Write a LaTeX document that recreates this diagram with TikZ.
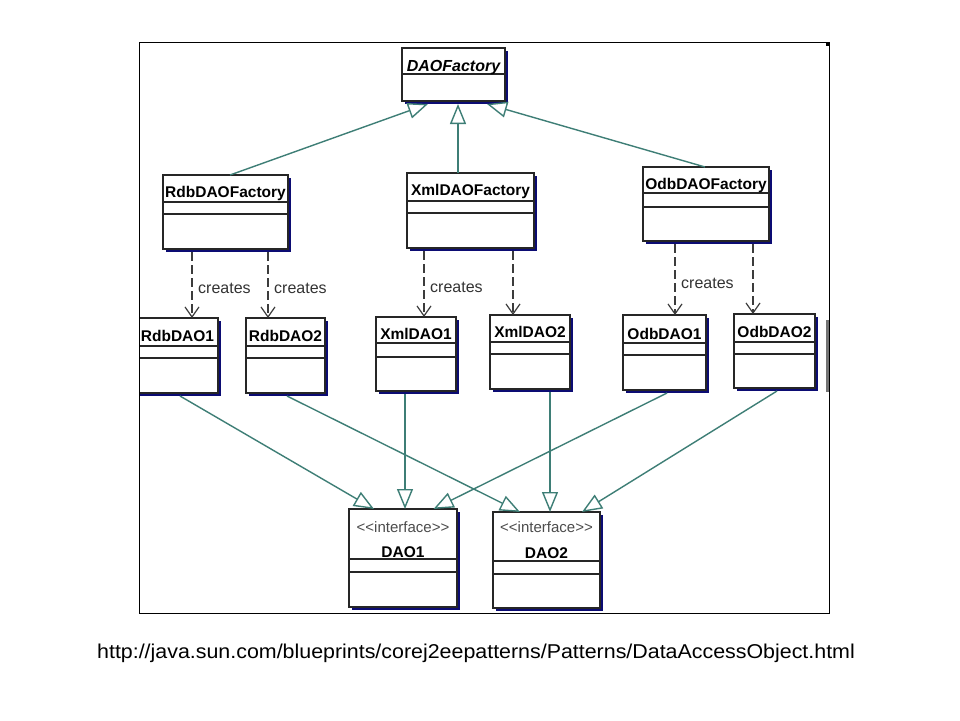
\documentclass[tikz,border=0pt]{standalone}
\usepackage{fontspec}
\setmainfont{Liberation Sans}
\newfontfamily\urlfont[FakeStretch=1.07]{Liberation Sans}
\usetikzlibrary{arrows.meta,calc}
\definecolor{gencol}{RGB}{62,126,118}
\definecolor{shad}{RGB}{12,12,115}
\definecolor{dline}{RGB}{60,60,60}
\tikzset{
 umlbox/.style={draw=black!85, fill=white, line width=1.1pt, inner sep=0pt, outer sep=0pt},
 ttl/.style={font=\bfseries\fontsize{15.5}{15.5}\selectfont, anchor=base, inner sep=0pt},
 sepline/.style={draw=black!85, line width=1.1pt},
 gen/.style={draw=gencol, line width=1.4pt, -{Triangle[open,length=20pt,width=16pt,fill=white]}},
 crt/.style={draw=dline, line width=1.2pt, dash pattern=on 9pt off 4pt, -{Straight Barb[length=10pt,width=14pt]}},
 crlab/.style={font=\fontsize{16}{16}\selectfont, text=black!80, anchor=base west, inner sep=0pt},
 ifc/.style={font=\fontsize{15}{15}\selectfont, text=black!70, anchor=base, inner sep=0pt},
}
% name, x1, y1, x2, y2, sep1, sep2, title baseline, title
\newcommand\umlcls[9]{%
 \fill[shad] (#2+3,#3+3) rectangle (#4+3,#5+3);
 \node[umlbox, anchor=north west, minimum width={(#4-#2)*1pt}, minimum height={(#5-#3)*1pt}] (#1) at (#2,#3) {};
 \draw[sepline] ($(#1.north west)+(0,#6-#3)$) -- ($(#1.north east)+(0,#6-#3)$);
 \draw[sepline] ($(#1.north west)+(0,#7-#3)$) -- ($(#1.north east)+(0,#7-#3)$);
 \node[ttl] (#1-t) at ($(#1.north)+(0,#8-#3)$) {#9};
}
\newcommand\ifctext{\textless\kern0pt\textless interface\textgreater\kern0pt\textgreater}
\begin{document}
\begin{tikzpicture}[x=1pt,y=-1pt]
\useasboundingbox (0,0) rectangle (960,720);
\fill[white] (0,0) rectangle (960,720);
\begin{scope}
\clip (139,42) rectangle (829,613);
\umlcls{daof}{402}{48}{505}{101}{74}{74}{71}{\itshape\fontsize{16}{16}\selectfont DAOFactory}
\umlcls{rdbf}{163}{175}{288}{249}{202}{214}{197}{RdbDAOFactory}
\umlcls{xmlf}{407}{173}{534}{248}{201}{213}{195}{XmlDAOFactory}
\umlcls{odbf}{643}{167}{769}{241}{193}{207}{189}{OdbDAOFactory}
\umlcls{rdao1}{137}{318}{218}{393}{346}{358}{341}{RdbDAO1}
\umlcls{rdao2}{246}{318}{325}{393}{346}{358}{341}{RdbDAO2}
\umlcls{xmlao1}{376}{317}{456}{391}{343}{357}{339}{XmlDAO1}
\umlcls{xmlao2}{490}{315}{570}{389}{342}{354}{337}{XmlDAO2}
\umlcls{odbao1}{623}{315}{706}{390}{343}{355}{339}{OdbDAO1}
\umlcls{odbao2}{734}{314}{815}{388}{342}{354}{337}{OdbDAO2}
\umlcls{dao1}{349}{509}{457}{607}{559}{572}{557}{DAO1}
\umlcls{dao2}{493}{512}{600}{608}{561}{574}{558}{DAO2}
\node[ifc] (dao1-i) at ($(dao1.north)+(0,23)$) {\ifctext};
\node[ifc] (dao2-i) at ($(dao2.north)+(0,20)$) {\ifctext};
% partially visible class at the right edge
\fill[black!55] (826,320) rectangle (829,392);
% generalisation to DAOFactory
\draw[gen] ([xshift=67pt]rdbf.north west) -- ([xshift=26pt,yshift=-3pt]daof.south west);
\draw[gen] ([xshift=51pt]xmlf.north west) -- ([xshift=56pt,yshift=-3pt]daof.south west);
\draw[gen] ([xshift=62pt]odbf.north west) -- ([xshift=85pt,yshift=-3pt]daof.south west);
% creates dependencies
\draw[crt] ([xshift=29pt,yshift=-3pt]rdbf.south west) -- ([xshift=55pt]rdao1.north west);
\draw[crt] ([xshift=105pt,yshift=-3pt]rdbf.south west) -- ([xshift=22pt]rdao2.north west);
\draw[crt] ([xshift=17pt,yshift=-3pt]xmlf.south west) -- ([xshift=48pt]xmlao1.north west);
\draw[crt] ([xshift=106pt,yshift=-3pt]xmlf.south west) -- ([xshift=23pt]xmlao2.north west);
\draw[crt] ([xshift=32pt,yshift=-3pt]odbf.south west) -- ([xshift=52pt]odbao1.north west);
\draw[crt] ([xshift=110pt,yshift=-3pt]odbf.south west) -- ([xshift=19pt]odbao2.north west);
\node[crlab] (lab1) at (198,293) {creates};
\node[crlab] (lab2) at (274,293) {creates};
\node[crlab] (lab3) at (430,292) {creates};
\node[crlab] (lab4) at (681,288) {creates};
% realisations of the DAO interfaces
\draw[gen] ([xshift=43pt,yshift=-3pt]rdao1.south west) -- ([xshift=25pt]dao1.north west);
\draw[gen] ([xshift=41pt,yshift=-3pt]rdao2.south west) -- ([xshift=27pt]dao2.north west);
\draw[gen] ([xshift=29pt,yshift=-3pt]xmlao1.south west) -- ([xshift=56pt]dao1.north west);
\draw[gen] ([xshift=60pt,yshift=-3pt]xmlao2.south west) -- ([xshift=57pt]dao2.north west);
\draw[gen] ([xshift=44pt,yshift=-3pt]odbao1.south west) -- ([xshift=84.5pt]dao1.north west);
\draw[gen] ([xshift=43pt,yshift=-3pt]odbao2.south west) -- ([xshift=89pt]dao2.north west);
\end{scope}
\draw[line width=1pt] (139,42) rectangle (829,613);
\fill[black] (826,42) rectangle (830,46);
\node[font=\urlfont\fontsize{20}{20}\selectfont, anchor=base, inner sep=0pt] (url) at (476,658) {http://java.sun.com/blueprints/corej2eepatterns/Patterns/DataAccessObject.html};
\end{tikzpicture}
\end{document}
